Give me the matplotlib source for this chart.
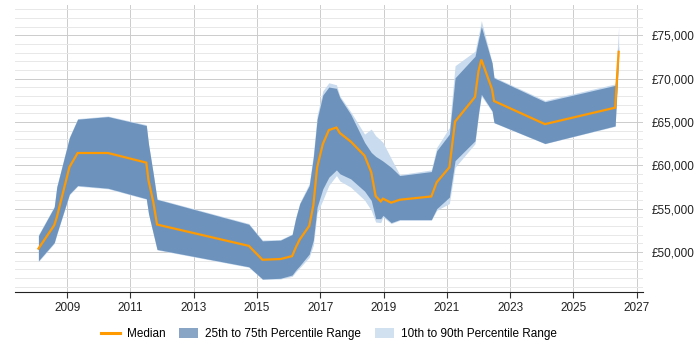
import numpy as np
import matplotlib
matplotlib.use("Agg")
import matplotlib.pyplot as plt
from matplotlib.ticker import FuncFormatter, MultipleLocator
from matplotlib.lines import Line2D
from matplotlib.patches import Patch

plt.rcParams["font.family"] = ["Liberation Sans", "DejaVu Sans"]

# decimal years of each sample
dates = [2008.09, 2008.59, 2008.67, 2009.07, 2009.33, 2010.29, 2011.50, 2011.57,
         2011.72, 2011.84, 2014.74, 2015.17, 2015.74, 2016.11, 2016.22, 2016.35,
         2016.65, 2016.78, 2016.90, 2017.08, 2017.27, 2017.51, 2017.62, 2017.96,
         2018.40, 2018.61, 2018.75, 2018.91, 2018.98, 2019.24, 2019.51, 2020.51,
         2020.68, 2021.08, 2021.26, 2021.89, 2022.00, 2022.09, 2022.43, 2022.49,
         2024.10, 2026.32, 2026.43]
median = [50400, 53100, 54000, 59800, 61430, 61430, 60320, 58260,
          55800, 53180, 50720, 49120, 49200, 49540, 50500, 51460,
          53020, 55390, 59780, 62470, 64070, 64370, 63730, 62760,
          61120, 59210, 56460, 55850, 56160, 55700, 56040, 56420,
          58060, 59780, 65060, 67890, 70870, 72210, 68770, 67430,
          64760, 66660, 73100]
p25 = [49000, 51100, 52100, 56700, 57680, 57370, 56160, 54440,
       52140, 50310, 48310, 46900, 46980, 47360, 47900, 48430,
       49770, 51380, 55200, 57300, 58640, 59480, 59030, 58450,
       57030, 55960, 53860, 53860, 54240, 53400, 53750, 53750,
       55010, 56340, 60550, 62840, 66000, 68200, 66280, 64940,
       62530, 64560, 72600]
p75 = [51900, 55200, 57500, 63200, 65330, 65630, 64600, 62470,
       59030, 56080, 53210, 51300, 51380, 52030, 53860, 55580,
       57680, 60930, 65330, 68120, 69040, 68890, 67810, 65910,
       62650, 61500, 61040, 60670, 60500, 59780, 58830, 59290,
       61700, 63610, 70100, 72590, 74500, 76030, 71800, 70100,
       67350, 69230, 73800]
p10 = [48900, 51000, 52000, 56600, 57600, 57300, 56100, 54400,
       52100, 50250, 48250, 46850, 46900, 47200, 47700, 48200,
       49400, 50800, 54500, 56000, 57700, 58830, 58200, 57490,
       56000, 54820, 53470, 53400, 54050, 53290, 53670, 53670,
       54820, 55600, 59780, 62500, 65800, 68000, 66200, 64900,
       62500, 64500, 72000]
p90 = [52000, 55300, 57600, 63300, 65400, 65700, 64700, 62500,
       59100, 56150, 53300, 51400, 51450, 52100, 54000, 55700,
       57900, 61300, 65800, 68600, 69530, 69300, 68000, 66200,
       63610, 64190, 63420, 62900, 62650, 60800, 58940, 59480,
       62080, 64370, 71500, 73170, 75000, 76700, 71900, 70200,
       67500, 69400, 76000]

orange = "#ff9a00"
dark = "#6d93bd"
light = "#c9dbee"

fig = plt.figure(figsize=(7, 3.5), dpi=100)
ax = fig.add_axes([15 / 700, 1 - 292 / 350, (643 - 15) / 700, (292 - 5) / 350])

ax.fill_between(dates, p10, p90, color=light, lw=0)
ax.fill_between(dates, p25, p75, color=dark, lw=0)
ax.plot(dates, median, color=orange, lw=1.6, solid_joinstyle="miter")

ax.set_xlim(2007.35, 2027.2)
ax.set_ylim(45400, 78500)
ax.set_xticks(np.arange(2009, 2028, 2))
ax.yaxis.set_major_locator(MultipleLocator(5000))
ax.yaxis.set_minor_locator(MultipleLocator(1000))
ax.yaxis.set_major_formatter(FuncFormatter(lambda v, p: f"£{v:,.0f}"))
ax.yaxis.tick_right()
ax.tick_params(axis="y", which="both", length=0, labelsize=8.5, pad=6, colors="#222222")
ax.tick_params(axis="x", length=4, labelsize=8.5, color="#333333", colors="#222222")
ax.grid(axis="y", which="major", color="#cccccc", lw=0.7)
ax.grid(axis="y", which="minor", color="#e8e8e8", lw=0.7)
ax.grid(axis="x", which="major", color="#cccccc", lw=0.7)
ax.set_axisbelow(True)
for s in ["top", "right", "left"]:
    ax.spines[s].set_visible(False)
ax.spines["bottom"].set_color("#222222")

handles = [
    Line2D([0], [0], color=orange, lw=2.2),
    Patch(facecolor="#88a5c5", edgecolor="none"),
    Patch(facecolor="#d2e1f0", edgecolor="none"),
]
labels = ["Median", "25th to 75th Percentile Range", "10th to 90th Percentile Range"]
fig.legend(handles, labels, loc="center", bbox_to_anchor=(329 / 700, 1 - 334 / 350),
           ncol=3, frameon=False, fontsize=8.5, handlelength=1.6, handleheight=0.9,
           columnspacing=1.2, handletextpad=0.6)

fig.savefig("out.png", dpi=100)
